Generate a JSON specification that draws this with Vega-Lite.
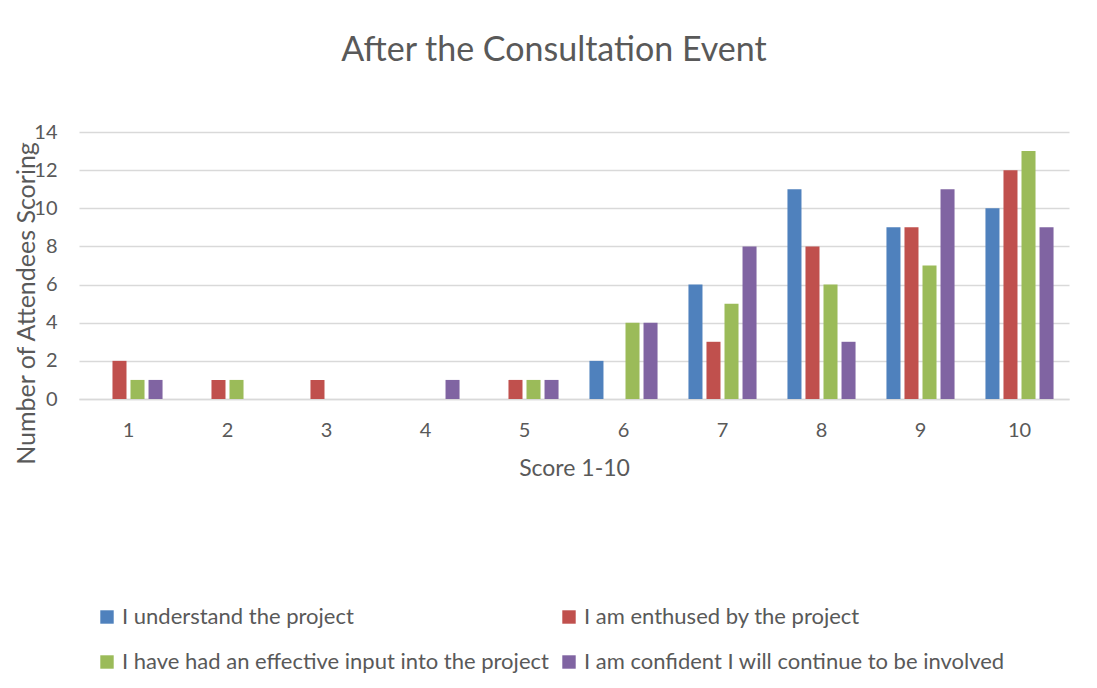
{
  "$schema": "https://vega.github.io/schema/vega-lite/v6.json",
  "width": 990,
  "height": 267,
  "autosize": {"type": "none"},
  "padding": {"left": 79, "top": 132, "right": 28, "bottom": 289},
  "background": "white",
  "title": {
    "text": "After the Consultation Event",
    "font": "Lato",
    "fontSize": 34,
    "fontWeight": "normal",
    "color": "#595959",
    "anchor": "middle",
    "dx": -20,
    "offset": 54
  },
  "data": {
    "values": [
      {"score": 1, "series": "I understand the project", "value": 0},
      {"score": 1, "series": "I am enthused by the project", "value": 2},
      {"score": 1, "series": "I have had an effective input into the project", "value": 1},
      {"score": 1, "series": "I am confident I will continue to be involved", "value": 1},
      {"score": 2, "series": "I understand the project", "value": 0},
      {"score": 2, "series": "I am enthused by the project", "value": 1},
      {"score": 2, "series": "I have had an effective input into the project", "value": 1},
      {"score": 2, "series": "I am confident I will continue to be involved", "value": 0},
      {"score": 3, "series": "I understand the project", "value": 0},
      {"score": 3, "series": "I am enthused by the project", "value": 1},
      {"score": 3, "series": "I have had an effective input into the project", "value": 0},
      {"score": 3, "series": "I am confident I will continue to be involved", "value": 0},
      {"score": 4, "series": "I understand the project", "value": 0},
      {"score": 4, "series": "I am enthused by the project", "value": 0},
      {"score": 4, "series": "I have had an effective input into the project", "value": 0},
      {"score": 4, "series": "I am confident I will continue to be involved", "value": 1},
      {"score": 5, "series": "I understand the project", "value": 0},
      {"score": 5, "series": "I am enthused by the project", "value": 1},
      {"score": 5, "series": "I have had an effective input into the project", "value": 1},
      {"score": 5, "series": "I am confident I will continue to be involved", "value": 1},
      {"score": 6, "series": "I understand the project", "value": 2},
      {"score": 6, "series": "I am enthused by the project", "value": 0},
      {"score": 6, "series": "I have had an effective input into the project", "value": 4},
      {"score": 6, "series": "I am confident I will continue to be involved", "value": 4},
      {"score": 7, "series": "I understand the project", "value": 6},
      {"score": 7, "series": "I am enthused by the project", "value": 3},
      {"score": 7, "series": "I have had an effective input into the project", "value": 5},
      {"score": 7, "series": "I am confident I will continue to be involved", "value": 8},
      {"score": 8, "series": "I understand the project", "value": 11},
      {"score": 8, "series": "I am enthused by the project", "value": 8},
      {"score": 8, "series": "I have had an effective input into the project", "value": 6},
      {"score": 8, "series": "I am confident I will continue to be involved", "value": 3},
      {"score": 9, "series": "I understand the project", "value": 9},
      {"score": 9, "series": "I am enthused by the project", "value": 9},
      {"score": 9, "series": "I have had an effective input into the project", "value": 7},
      {"score": 9, "series": "I am confident I will continue to be involved", "value": 11},
      {"score": 10, "series": "I understand the project", "value": 10},
      {"score": 10, "series": "I am enthused by the project", "value": 12},
      {"score": 10, "series": "I have had an effective input into the project", "value": 13},
      {"score": 10, "series": "I am confident I will continue to be involved", "value": 9}
    ]
  },
  "mark": {"type": "bar"},
  "encoding": {
    "x": {
      "field": "score",
      "type": "ordinal",
      "scale": {"paddingInner": 0.27, "paddingOuter": 0.135},
      "axis": {
        "title": "Score 1-10",
        "labelAngle": 0,
        "ticks": false,
        "domainColor": "#D9D9D9",
        "domainWidth": 1.3,
        "labelPadding": 21,
        "labelFont": "Lato",
        "labelFontSize": 20,
        "labelColor": "#595959",
        "titleFont": "Lato",
        "titleFontSize": 23,
        "titleFontWeight": "normal",
        "titleColor": "#595959",
        "titleY": 69,
        "titleBaseline": "middle"
      }
    },
    "xOffset": {
      "field": "series",
      "type": "nominal",
      "sort": [
        "I understand the project",
        "I am enthused by the project",
        "I have had an effective input into the project",
        "I am confident I will continue to be involved"
      ],
      "scale": {"paddingInner": 0.222, "paddingOuter": 0.116}
    },
    "y": {
      "field": "value",
      "type": "quantitative",
      "scale": {"domain": [0, 14], "nice": false},
      "axis": {
        "title": "Number of Attendees Scoring",
        "values": [0, 2, 4, 6, 8, 10, 12, 14],
        "labelOverlap": false,
        "ticks": false,
        "domain": false,
        "gridColor": "#D9D9D9",
        "gridWidth": 1.3,
        "labelPadding": 22,
        "labelFont": "Lato",
        "labelFontSize": 20,
        "labelColor": "#595959",
        "titleFont": "Lato",
        "titleFontSize": 25,
        "titleFontWeight": "normal",
        "titleColor": "#595959",
        "titleX": -53,
        "titleY": 171,
        "titleAlign": "center",
        "titleBaseline": "middle",
        "titleAngle": -90
      }
    },
    "color": {
      "field": "series",
      "type": "nominal",
      "sort": [
        "I understand the project",
        "I have had an effective input into the project",
        "I am enthused by the project",
        "I am confident I will continue to be involved"
      ],
      "scale": {"range": ["#4F81BD", "#9BBB59", "#C0504D", "#8064A2"]},
      "legend": {
        "title": null,
        "orient": "none",
        "legendX": 17,
        "legendY": 474,
        "columns": 2,
        "columnPadding": 9,
        "rowPadding": 23,
        "symbolType": "square",
        "symbolSize": 180,
        "symbolStrokeWidth": 0,
        "labelOffset": 4,
        "labelFont": "Lato",
        "labelFontSize": 22,
        "labelColor": "#595959",
        "labelLimit": 700
      }
    }
  },
  "config": {
    "view": {"stroke": null}
  }
}
